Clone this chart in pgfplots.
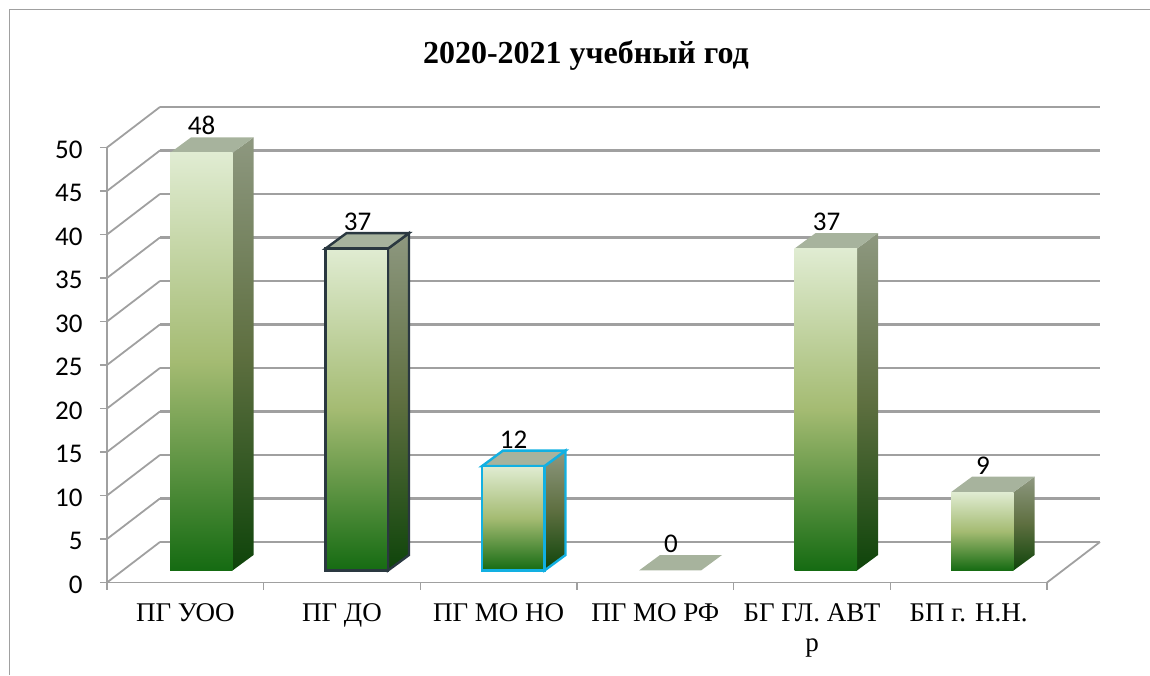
\documentclass[border=0pt]{standalone}
\usepackage{pgfplots}
\pgfplotsset{compat=1.18}
\usepackage{fontspec}
\setmainfont{Liberation Serif}
\newfontfamily\carlito{Carlito}
\definecolor{fb}{HTML}{156B12}
\definecolor{fm}{HTML}{A4BB72}
\definecolor{ft}{HTML}{E0ECD2}
\definecolor{sb}{HTML}{0E440A}
\definecolor{sm}{HTML}{5E6F40}
\definecolor{st}{HTML}{8E9880}
\definecolor{topf}{HTML}{A7B39D}
\definecolor{gridc}{HTML}{A0A0A0}
\definecolor{darkedge}{HTML}{2A3840}
\definecolor{cyanedge}{HTML}{12B0E2}
\pgfdeclareverticalshading{barfront}{100bp}{color(0bp)=(fb); color(25bp)=(fb); color(50bp)=(fm); color(75bp)=(ft); color(100bp)=(ft)}
\pgfdeclareverticalshading{barside}{100bp}{color(0bp)=(sb); color(25bp)=(sb); color(50bp)=(sm); color(75bp)=(st); color(100bp)=(st)}
% #1 left edge of the front face (px), #2 value, #3 outline options
\newcommand{\threedbar}[3]{%
  \pgfmathsetmacro{\xa}{#1}%
  \pgfmathsetmacro{\xb}{#1+62.5}%
  \pgfmathsetmacro{\xc}{#1+83.5}%
  \pgfmathsetmacro{\xd}{#1+21}%
  \pgfmathsetmacro{\ya}{1.38}%
  \pgfmathsetmacro{\yb}{1.38+1.78}%
  \pgfmathsetmacro{\yc}{1.38+#2}%
  \pgfmathsetmacro{\yd}{1.38+1.78+#2}%
  \pgfmathsetmacro{\xm}{#1+31.25}%
  \addplot[shading=barside,#3] coordinates {(\xb,\ya)(\xc,\yb)(\xc,\yd)(\xb,\yc)} --cycle;
  \addplot[fill=topf,#3] coordinates {(\xa,\yc)(\xb,\yc)(\xc,\yd)(\xd,\yd)} --cycle;
  \addplot[ybar,bar width=62.5pt,yshift=12pt,shading=barfront,#3] coordinates {(\xm,#2)};
}
\begin{document}
\begin{tikzpicture}
\begin{axis}[
  at={(0,0)},anchor=south west,
  scale only axis,width=940pt,height=435pt,
  xmin=107,xmax=1047,ymin=0,ymax=50,
  clip=false,
  axis x line*=bottom,axis y line*=left,
  axis line style={gridc,line width=1.8pt},
  every tick/.style={gridc,line width=1.2pt},
  major tick length=7pt,
  tick align=outside,
  ytick={0,5,10,15,20,25,30,35,40,45,50},
  yticklabel style={font=\fontsize{27}{30}\selectfont\carlito,/pgf/number format/assume math mode=true,xshift=-14pt,yshift=-2pt},
  xtick={107,263.67,420.33,577,733.67,890.33,1047},
  xticklabels={},
  extra x ticks={185.33,342,498.67,655.33,812,968.67},
  extra x tick labels={ПГ УОО,ПГ ДО,ПГ МО НО,ПГ МО РФ,{БГ ГЛ. АВТ\\р},БП г. Н.Н.},
  extra x tick style={major tick length=0pt,
    xticklabel style={font=\fontsize{27}{30}\selectfont,align=center,anchor=north,yshift=-18pt}},
  title={\fontsize{32}{36}\selectfont\bfseries 2020-2021 учебный год},
  title style={at={(0.5095,1)},anchor=base,yshift=78pt},
]
% floor
\addplot[gridc,line width=1.8pt] coordinates {(107,0)(160,4.66)};
\addplot[gridc,line width=1.8pt] coordinates {(1047,0)(1100,4.66)};
% back wall grid lines
\addplot[gridc,line width=2.4pt] coordinates {(160,4.66)(1100,4.66)};
\addplot[gridc,line width=2.4pt] coordinates {(160,9.66)(1100,9.66)};
\addplot[gridc,line width=2.4pt] coordinates {(160,14.66)(1100,14.66)};
\addplot[gridc,line width=2.4pt] coordinates {(160,19.66)(1100,19.66)};
\addplot[gridc,line width=2.4pt] coordinates {(160,24.66)(1100,24.66)};
\addplot[gridc,line width=2.4pt] coordinates {(160,29.66)(1100,29.66)};
\addplot[gridc,line width=2.4pt] coordinates {(160,34.66)(1100,34.66)};
\addplot[gridc,line width=2.4pt] coordinates {(160,39.66)(1100,39.66)};
\addplot[gridc,line width=2.4pt] coordinates {(160,44.66)(1100,44.66)};
\addplot[gridc,line width=2.4pt] coordinates {(160,49.66)(1100,49.66)};
\addplot[gridc,line width=2.4pt] coordinates {(160,54.66)(1100,54.66)};
% left wall lines
\addplot[gridc,line width=1.8pt] coordinates {(107,5)(160,9.66)};
\addplot[gridc,line width=1.8pt] coordinates {(107,10)(160,14.66)};
\addplot[gridc,line width=1.8pt] coordinates {(107,15)(160,19.66)};
\addplot[gridc,line width=1.8pt] coordinates {(107,20)(160,24.66)};
\addplot[gridc,line width=1.8pt] coordinates {(107,25)(160,29.66)};
\addplot[gridc,line width=1.8pt] coordinates {(107,30)(160,34.66)};
\addplot[gridc,line width=1.8pt] coordinates {(107,35)(160,39.66)};
\addplot[gridc,line width=1.8pt] coordinates {(107,40)(160,44.66)};
\addplot[gridc,line width=1.8pt] coordinates {(107,45)(160,49.66)};
\addplot[gridc,line width=1.8pt] coordinates {(107,50)(160,54.66)};
% bars
\threedbar{170}{48}{draw=none}
\threedbar{325.5}{37}{draw=darkedge,line width=2.4pt}
\threedbar{482}{12}{draw=cyanedge,line width=2.4pt}
\addplot[fill=topf,draw=none] coordinates {(639,1.38)(701,1.38)(722,3.16)(660,3.16)} --cycle;
\threedbar{794.5}{37}{draw=none}
\threedbar{951}{9}{draw=none}
% value labels
\addplot[draw=none,mark=none,
  nodes near coords,
  point meta=explicit,
  every node near coord/.style={anchor=base,inner sep=0pt,font=\fontsize{27}{30}\selectfont\carlito,text=black,/pgf/number format/assume math mode=true}
] table[x=x,y expr=\thisrow{v}+3.44,meta=v,row sep=\\] {
x v\\
201.5 48\\
357.5 37\\
513.5 12\\
671 0\\
826.5 37\\
983 9\\
};
\end{axis}
\draw[gridc,line width=1.2pt,x=1pt,y=1pt] (-97.5,-92.5) -- (-97.5,573) -- (1043,573);
\pgfresetboundingbox
\useasboundingbox[x=1pt,y=1pt] (-107,-92.5) rectangle (1043,582.5);
\end{tikzpicture}
\end{document}
